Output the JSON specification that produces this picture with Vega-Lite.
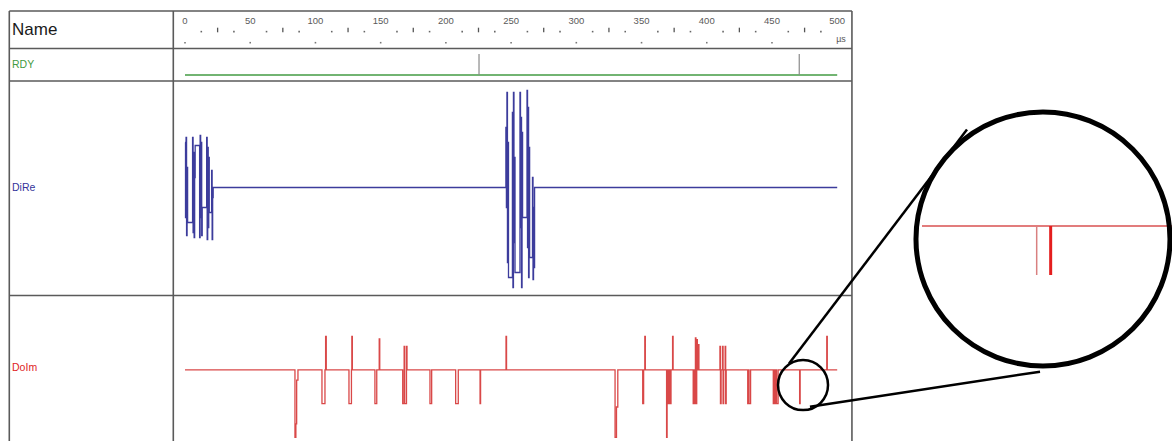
{
  "$schema": "https://vega.github.io/schema/vega-lite/v6.json",
  "width": 1172,
  "height": 441,
  "padding": 0,
  "autosize": {"type": "none"},
  "background": "white",
  "config": {"view": {"stroke": null}, "font": "Liberation Sans"},
  "datasets": {
    "header": [{"label": "Name"}],
    "lanes": [
      {"lane": 1, "label": "RDY"},
      {"lane": 2, "label": "DiRe"},
      {"lane": 3, "label": "DoIm"}
    ],
    "rowEdges": [{"at": -0.5}, {"at": 0.5}, {"at": 1.5}, {"at": 2.5}],
    "colEdges": [{"t": -134.7}, {"t": -8.97}, {"t": 511.3}],
    "timeLabels": [
      {"t": 0}, {"t": 50}, {"t": 100}, {"t": 150}, {"t": 200}, {"t": 250},
      {"t": 300}, {"t": 350}, {"t": 400}, {"t": 450}, {"t": 500}
    ],
    "unitLabel": [{"unit": "µs", "t": 502.9}],
    "quarterDots": [
      {"t": 12.5}, {"t": 37.5}, {"t": 62.5}, {"t": 87.5}, {"t": 112.5}, {"t": 137.5},
      {"t": 162.5}, {"t": 187.5}, {"t": 212.5}, {"t": 237.5}, {"t": 262.5}, {"t": 287.5},
      {"t": 312.5}, {"t": 337.5}, {"t": 362.5}, {"t": 387.5}, {"t": 412.5}, {"t": 437.5},
      {"t": 462.5}, {"t": 487.5}
    ],
    "halfTicks": [
      {"t": 25}, {"t": 75}, {"t": 125}, {"t": 175}, {"t": 225},
      {"t": 275}, {"t": 325}, {"t": 375}, {"t": 425}, {"t": 475}
    ],
    "majorDots": [
      {"t": 0}, {"t": 50}, {"t": 100}, {"t": 150}, {"t": 200},
      {"t": 250}, {"t": 300}, {"t": 350}, {"t": 400}, {"t": 450}
    ],
    "rdy": [{"t": 0, "v": 0}, {"t": 500, "v": 0}],
    "rdyPulses": [{"t": 225.4}, {"t": 470.9}],
    "dire": [
      {"t": 0, "v": 0.45}, {"t": 0.4, "v": -0.3}, {"t": 0.8, "v": 0.5}, {"t": 1.2, "v": -0.48}, {"t": 1.6, "v": 0.2}, {"t": 2.0, "v": -0.35},
      {"t": 5.8, "v": 0.5}, {"t": 6.2, "v": -0.45}, {"t": 6.6, "v": 0.35}, {"t": 7.0, "v": -0.5}, {"t": 7.4, "v": 0.1}, {"t": 7.8, "v": 0.42},
      {"t": 11.2, "v": -0.5}, {"t": 11.6, "v": 0.52}, {"t": 12.0, "v": -0.3}, {"t": 12.4, "v": 0.45}, {"t": 12.8, "v": -0.48}, {"t": 13.2, "v": -0.2},
      {"t": 16.6, "v": 0.5}, {"t": 17.0, "v": -0.52}, {"t": 17.4, "v": 0.4}, {"t": 17.8, "v": -0.4}, {"t": 18.2, "v": 0.3}, {"t": 18.6, "v": -0.25},
      {"t": 20.4, "v": 0.17}, {"t": 20.8, "v": -0.52}, {"t": 21.2, "v": -0.1}, {"t": 21.6, "v": 0},
      {"t": 246.0, "v": 0.6}, {"t": 246.4, "v": -0.2}, {"t": 246.8, "v": 0.95}, {"t": 247.2, "v": -0.75}, {"t": 247.6, "v": 0.45}, {"t": 248.0, "v": -0.9},
      {"t": 251.0, "v": 0.75}, {"t": 251.4, "v": -1.0}, {"t": 251.8, "v": 0.95}, {"t": 252.2, "v": -0.55}, {"t": 252.6, "v": 0.3}, {"t": 253.0, "v": -0.85},
      {"t": 256.8, "v": 0.95}, {"t": 257.2, "v": -0.4}, {"t": 257.6, "v": 0.7}, {"t": 258.0, "v": -1.0}, {"t": 258.4, "v": 0.55}, {"t": 258.8, "v": -0.3},
      {"t": 262.2, "v": 0.97}, {"t": 262.6, "v": -0.6}, {"t": 263.0, "v": 0.8}, {"t": 263.4, "v": -0.9}, {"t": 263.8, "v": 0.4}, {"t": 264.2, "v": -0.7},
      {"t": 266.4, "v": 0.1}, {"t": 266.8, "v": -0.92}, {"t": 267.2, "v": -0.2}, {"t": 267.6, "v": -0.8}, {"t": 268.0, "v": 0},
      {"t": 500, "v": 0}
    ],
    "doim": [
      {"t": 0, "v": 0},
      {"t": 84.3, "v": -2}, {"t": 85.0, "v": -1.6}, {"t": 85.6, "v": -0.3}, {"t": 86.6, "v": 0},
      {"t": 105.0, "v": -1}, {"t": 107.3, "v": 0}, {"t": 107.8, "v": 1}, {"t": 108.3, "v": 0},
      {"t": 125.7, "v": -1}, {"t": 127.6, "v": 0}, {"t": 127.9, "v": 1}, {"t": 128.3, "v": 0},
      {"t": 145.6, "v": -1}, {"t": 147.0, "v": 0}, {"t": 148.9, "v": 0.92}, {"t": 149.3, "v": 0},
      {"t": 166.9, "v": -1}, {"t": 168.0, "v": 0.7}, {"t": 168.4, "v": -1}, {"t": 169.8, "v": 0.7}, {"t": 170.2, "v": 0},
      {"t": 187.8, "v": -1}, {"t": 189.1, "v": 0},
      {"t": 207.5, "v": -1}, {"t": 209.5, "v": 0},
      {"t": 226.2, "v": -1}, {"t": 226.6, "v": 0},
      {"t": 246.1, "v": 1}, {"t": 246.5, "v": 0},
      {"t": 329.7, "v": -2}, {"t": 330.8, "v": -1.1}, {"t": 331.8, "v": 0},
      {"t": 350.9, "v": -1}, {"t": 351.6, "v": 0}, {"t": 352.5, "v": 1}, {"t": 352.9, "v": 0},
      {"t": 369.2, "v": -2}, {"t": 369.6, "v": -1}, {"t": 370.2, "v": 0}, {"t": 370.5, "v": -1}, {"t": 371.5, "v": 0}, {"t": 371.9, "v": -1}, {"t": 372.6, "v": 0}, {"t": 373.8, "v": 1}, {"t": 374.2, "v": 0},
      {"t": 389.6, "v": -1}, {"t": 390.2, "v": 0}, {"t": 390.6, "v": -1}, {"t": 391.3, "v": 0.95}, {"t": 391.7, "v": -1}, {"t": 392.3, "v": 0.9}, {"t": 392.8, "v": 0}, {"t": 393.5, "v": 0.75}, {"t": 394.0, "v": 0},
      {"t": 410.1, "v": 0.7}, {"t": 410.5, "v": -1}, {"t": 411.0, "v": 0}, {"t": 412.1, "v": 0.7}, {"t": 412.5, "v": -1}, {"t": 413.0, "v": 0}, {"t": 414.1, "v": 0.7}, {"t": 414.5, "v": -1}, {"t": 414.9, "v": 0},
      {"t": 431.4, "v": -1}, {"t": 431.8, "v": 0}, {"t": 432.4, "v": -1}, {"t": 433.6, "v": 0},
      {"t": 451.0, "v": -1}, {"t": 451.5, "v": 0}, {"t": 452.0, "v": -1}, {"t": 453.0, "v": 0}, {"t": 453.5, "v": -1}, {"t": 454.7, "v": 0},
      {"t": 471.2, "v": -1}, {"t": 471.6, "v": 0},
      {"t": 492.0, "v": 1}, {"t": 492.4, "v": 0},
      {"t": 500, "v": 0}
    ],
    "lens": [{"t": 473.8, "v": -0.45}],
    "connectors": [
      {"t": 463.1, "v": 0.19, "t2": 599.5, "v2": 7.14},
      {"t": 479.1, "v": -1.09, "t2": 655.5, "v2": -0.05}
    ],
    "zoomBase": [{"t": 467.92, "t2": 475.07, "v": 0}],
    "zoomEdge": [{"t": 471.2, "v": 0, "v2": -1}],
    "zoomPulse": [{"t": 471.6, "v": 0, "v2": -1}],
    "zoomLens": [{"t": 471.38, "v": -0.265}]
  },
  "layer": [
    {
      "layer": [
        {
          "data": {"name": "rowEdges"},
          "mark": {"type": "rule", "color": "#5a5a5a", "strokeWidth": 1.6},
          "encoding": {
            "x": {"datum": -134.7, "type": "quantitative", "scale": {"domain": [-141.83, 756.67], "nice": false, "zero": false}, "axis": null},
            "x2": {"datum": 511.3},
            "y": {"field": "at", "type": "quantitative", "scale": {"domain": [-0.5, 0.5, 1.5, 2.5, 3.5], "range": [11, 48.5, 81, 295.5, 441], "nice": false, "zero": false}, "axis": null}
          }
        },
        {
          "data": {"name": "colEdges"},
          "mark": {"type": "rule", "color": "#5a5a5a", "strokeWidth": 1.6},
          "encoding": {
            "x": {"field": "t", "type": "quantitative", "scale": {"domain": [-141.83, 756.67], "nice": false, "zero": false}, "axis": null},
            "y": {"datum": -0.5, "type": "quantitative", "scale": {"domain": [-0.5, 0.5, 1.5, 2.5, 3.5], "range": [11, 48.5, 81, 295.5, 441], "nice": false, "zero": false}, "axis": null},
            "y2": {"datum": 3.6}
          }
        },
        {
          "data": {"name": "timeLabels"},
          "mark": {"type": "text", "fontSize": 9.5, "color": "#5a5a5a", "align": "center", "baseline": "middle"},
          "encoding": {
            "x": {"field": "t", "type": "quantitative", "scale": {"domain": [-141.83, 756.67], "nice": false, "zero": false}, "axis": null},
            "y": {"datum": -0.24, "type": "quantitative", "scale": {"domain": [-0.5, 0.5, 1.5, 2.5, 3.5], "range": [11, 48.5, 81, 295.5, 441], "nice": false, "zero": false}, "axis": null},
            "text": {"field": "t", "type": "quantitative"}
          }
        },
        {
          "data": {"name": "unitLabel"},
          "mark": {"type": "text", "fontSize": 9, "color": "#5a5a5a", "align": "center", "baseline": "middle"},
          "encoding": {
            "x": {"field": "t", "type": "quantitative", "scale": {"domain": [-141.83, 756.67], "nice": false, "zero": false}, "axis": null},
            "y": {"datum": 0.247, "type": "quantitative", "scale": {"domain": [-0.5, 0.5, 1.5, 2.5, 3.5], "range": [11, 48.5, 81, 295.5, 441], "nice": false, "zero": false}, "axis": null},
            "text": {"field": "unit", "type": "nominal"}
          }
        },
        {
          "data": {"name": "quarterDots"},
          "mark": {"type": "point", "shape": "square", "filled": true, "size": 2.5, "color": "#666666", "opacity": 1},
          "encoding": {
            "x": {"field": "t", "type": "quantitative", "scale": {"domain": [-141.83, 756.67], "nice": false, "zero": false}, "axis": null},
            "y": {"datum": 0.05, "type": "quantitative", "scale": {"domain": [-0.5, 0.5, 1.5, 2.5, 3.5], "range": [11, 48.5, 81, 295.5, 441], "nice": false, "zero": false}, "axis": null}
          }
        },
        {
          "data": {"name": "halfTicks"},
          "mark": {"type": "rule", "color": "#555555", "strokeWidth": 1.3},
          "encoding": {
            "x": {"field": "t", "type": "quantitative", "scale": {"domain": [-141.83, 756.67], "nice": false, "zero": false}, "axis": null},
            "y": {"datum": -0.055, "type": "quantitative", "scale": {"domain": [-0.5, 0.5, 1.5, 2.5, 3.5], "range": [11, 48.5, 81, 295.5, 441], "nice": false, "zero": false}, "axis": null},
            "y2": {"datum": 0.068}
          }
        },
        {
          "data": {"name": "majorDots"},
          "mark": {"type": "point", "shape": "square", "filled": true, "size": 2.5, "color": "#777777", "opacity": 1},
          "encoding": {
            "x": {"field": "t", "type": "quantitative", "scale": {"domain": [-141.83, 756.67], "nice": false, "zero": false}, "axis": null},
            "y": {"datum": 0.345, "type": "quantitative", "scale": {"domain": [-0.5, 0.5, 1.5, 2.5, 3.5], "range": [11, 48.5, 81, 295.5, 441], "nice": false, "zero": false}, "axis": null}
          }
        },
        {
          "data": {"name": "header"},
          "mark": {"type": "text", "align": "left", "baseline": "middle", "fontSize": 17, "color": "#1a1a1a"},
          "encoding": {
            "x": {"datum": -132.6, "type": "quantitative", "scale": {"domain": [-141.83, 756.67], "nice": false, "zero": false}, "axis": null},
            "y": {"datum": 0, "type": "quantitative", "scale": {"domain": [-0.5, 0.5, 1.5, 2.5, 3.5], "range": [11, 48.5, 81, 295.5, 441], "nice": false, "zero": false}, "axis": null},
            "text": {"field": "label", "type": "nominal"}
          }
        },
        {
          "data": {"name": "lanes"},
          "transform": [{"filter": "datum.label === 'RDY'"}],
          "mark": {"type": "text", "align": "left", "baseline": "middle", "fontSize": 10.5, "color": "#3f9a3f"},
          "encoding": {
            "x": {"datum": -132.6, "type": "quantitative", "scale": {"domain": [-141.83, 756.67], "nice": false, "zero": false}, "axis": null},
            "y": {"field": "lane", "type": "quantitative", "scale": {"domain": [-0.5, 0.5, 1.5, 2.5, 3.5], "range": [11, 48.5, 81, 295.5, 441], "nice": false, "zero": false}, "axis": null},
            "text": {"field": "label", "type": "nominal"}
          }
        },
        {
          "data": {"name": "lanes"},
          "transform": [{"filter": "datum.label === 'DiRe'"}],
          "mark": {"type": "text", "align": "left", "baseline": "middle", "fontSize": 10.5, "color": "#34349a"},
          "encoding": {
            "x": {"datum": -132.6, "type": "quantitative", "scale": {"domain": [-141.83, 756.67], "nice": false, "zero": false}, "axis": null},
            "y": {"field": "lane", "type": "quantitative", "scale": {"domain": [-0.5, 0.5, 1.5, 2.5, 3.5], "range": [11, 48.5, 81, 295.5, 441], "nice": false, "zero": false}, "axis": null},
            "text": {"field": "label", "type": "nominal"}
          }
        },
        {
          "data": {"name": "lanes"},
          "transform": [{"filter": "datum.label === 'DoIm'"}],
          "mark": {"type": "text", "align": "left", "baseline": "middle", "fontSize": 10.5, "color": "#e02424"},
          "encoding": {
            "x": {"datum": -132.6, "type": "quantitative", "scale": {"domain": [-141.83, 756.67], "nice": false, "zero": false}, "axis": null},
            "y": {"field": "lane", "type": "quantitative", "scale": {"domain": [-0.5, 0.5, 1.5, 2.5, 3.5], "range": [11, 48.5, 81, 295.5, 441], "nice": false, "zero": false}, "axis": null},
            "text": {"field": "label", "type": "nominal"}
          }
        },
        {
          "data": {"name": "rdy"},
          "mark": {"type": "line", "color": "#72b472", "strokeWidth": 2},
          "encoding": {
            "x": {"field": "t", "type": "quantitative", "scale": {"domain": [-141.83, 756.67], "nice": false, "zero": false}, "axis": null},
            "y": {"field": "v", "type": "quantitative", "scale": {"domain": [0, 1], "range": [75, 54], "nice": false, "zero": false}, "axis": null}
          }
        },
        {
          "data": {"name": "rdyPulses"},
          "mark": {"type": "rule", "color": "#8a8a8a", "strokeWidth": 1.2},
          "encoding": {
            "x": {"field": "t", "type": "quantitative", "scale": {"domain": [-141.83, 756.67], "nice": false, "zero": false}, "axis": null},
            "y": {"datum": 0, "type": "quantitative", "scale": {"domain": [0, 1], "range": [75, 54], "nice": false, "zero": false}, "axis": null},
            "y2": {"datum": 1}
          }
        },
        {
          "data": {"name": "dire"},
          "mark": {"type": "line", "color": "#3c3c9c", "strokeWidth": 1.3, "interpolate": "step-after"},
          "encoding": {
            "x": {"field": "t", "type": "quantitative", "scale": {"domain": [-141.83, 756.67], "nice": false, "zero": false}, "axis": null},
            "y": {"field": "v", "type": "quantitative", "scale": {"domain": [-1, 1], "range": [287.5, 87.5], "nice": false, "zero": false}, "axis": null}
          }
        },
        {
          "data": {"name": "doim"},
          "mark": {"type": "line", "color": "#d94848", "strokeWidth": 1.3, "interpolate": "step-after"},
          "encoding": {
            "x": {"field": "t", "type": "quantitative", "scale": {"domain": [-141.83, 756.67], "nice": false, "zero": false}, "axis": null},
            "y": {"field": "v", "type": "quantitative", "scale": {"domain": [-2, 1], "range": [437.3, 336.3], "nice": false, "zero": false}, "axis": null}
          }
        },
        {
          "data": {"name": "connectors"},
          "mark": {"type": "rule", "color": "#000000", "strokeWidth": 2.5},
          "encoding": {
            "x": {"field": "t", "type": "quantitative", "scale": {"domain": [-141.83, 756.67], "nice": false, "zero": false}, "axis": null},
            "x2": {"field": "t2"},
            "y": {"field": "v", "type": "quantitative", "scale": {"domain": [-2, 1], "range": [437.3, 336.3], "nice": false, "zero": false}, "axis": null},
            "y2": {"field": "v2"}
          }
        },
        {
          "data": {"name": "lens"},
          "mark": {"type": "point", "shape": "circle", "filled": false, "size": 2500, "color": "#000000", "strokeWidth": 2.5, "opacity": 1},
          "encoding": {
            "x": {"field": "t", "type": "quantitative", "scale": {"domain": [-141.83, 756.67], "nice": false, "zero": false}, "axis": null},
            "y": {"field": "v", "type": "quantitative", "scale": {"domain": [-2, 1], "range": [437.3, 336.3], "nice": false, "zero": false}, "axis": null}
          }
        }
      ],
      "resolve": {"scale": {"y": "independent"}}
    },
    {
      "layer": [
        {
          "data": {"name": "zoomBase"},
          "mark": {"type": "rule", "color": "#d95050", "strokeWidth": 1.5},
          "encoding": {
            "x": {"field": "t", "type": "quantitative", "scale": {"domain": [467.92, 475.07], "range": [922, 1172], "nice": false, "zero": false}, "axis": null},
            "x2": {"field": "t2"},
            "y": {"field": "v", "type": "quantitative", "scale": {"domain": [-1, 0], "range": [275, 226], "nice": false, "zero": false}, "axis": null}
          }
        },
        {
          "data": {"name": "zoomEdge"},
          "mark": {"type": "rule", "color": "#d98080", "strokeWidth": 1.5},
          "encoding": {
            "x": {"field": "t", "type": "quantitative", "scale": {"domain": [467.92, 475.07], "range": [922, 1172], "nice": false, "zero": false}, "axis": null},
            "y": {"field": "v", "type": "quantitative", "scale": {"domain": [-1, 0], "range": [275, 226], "nice": false, "zero": false}, "axis": null},
            "y2": {"field": "v2"}
          }
        },
        {
          "data": {"name": "zoomPulse"},
          "mark": {"type": "rule", "color": "#e41e1e", "strokeWidth": 3},
          "encoding": {
            "x": {"field": "t", "type": "quantitative", "scale": {"domain": [467.92, 475.07], "range": [922, 1172], "nice": false, "zero": false}, "axis": null},
            "y": {"field": "v", "type": "quantitative", "scale": {"domain": [-1, 0], "range": [275, 226], "nice": false, "zero": false}, "axis": null},
            "y2": {"field": "v2"}
          }
        },
        {
          "data": {"name": "zoomLens"},
          "mark": {"type": "point", "shape": "circle", "filled": false, "size": 64516, "color": "#000000", "strokeWidth": 5, "opacity": 1},
          "encoding": {
            "x": {"field": "t", "type": "quantitative", "scale": {"domain": [467.92, 475.07], "range": [922, 1172], "nice": false, "zero": false}, "axis": null},
            "y": {"field": "v", "type": "quantitative", "scale": {"domain": [-1, 0], "range": [275, 226], "nice": false, "zero": false}, "axis": null}
          }
        }
      ]
    }
  ],
  "resolve": {"scale": {"x": "independent", "y": "independent"}}
}
